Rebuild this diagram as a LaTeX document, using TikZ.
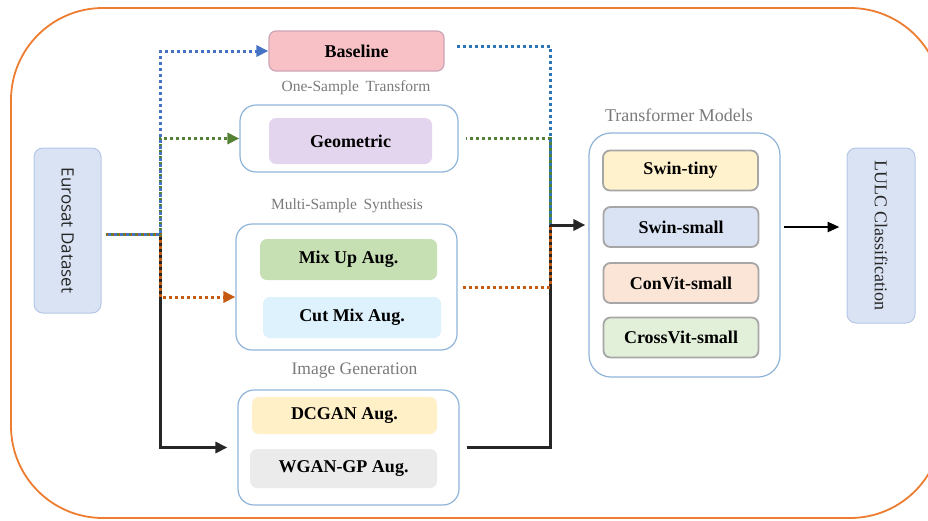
\documentclass[tikz,border=0pt]{standalone}
\usepackage{fontspec}
\setmainfont{Liberation Serif}
\newfontfamily\osans{Open Sans}
\usetikzlibrary{arrows.meta,calc}
\definecolor{outerOr}{HTML}{ED7D31}
\definecolor{grpB}{HTML}{8FB4D9}
\definecolor{eurF}{HTML}{DAE3F3}
\definecolor{eurD}{HTML}{B4C7E7}
\definecolor{baseF}{HTML}{F8C1C6}
\definecolor{baseD}{HTML}{CDA5B8}
\definecolor{geoF}{HTML}{E3D5EE}
\definecolor{mixF}{HTML}{C6E0B4}
\definecolor{cutF}{HTML}{DDF2FC}
\definecolor{dcF}{HTML}{FFF0C8}
\definecolor{wgF}{HTML}{EBEBEB}
\definecolor{tinyF}{HTML}{FFF2CC}
\definecolor{smallF}{HTML}{DAE3F3}
\definecolor{conF}{HTML}{FBE5D6}
\definecolor{crossF}{HTML}{E2F0D9}
\definecolor{mdlD}{HTML}{A6A6A6}
\definecolor{blueL}{HTML}{4472C4}
\definecolor{blueR}{HTML}{2E75B6}
\definecolor{greenL}{HTML}{548235}
\definecolor{orangeL}{HTML}{C55A11}
\definecolor{darkL}{HTML}{262626}
\definecolor{lblG}{HTML}{7A7A7A}
\tikzset{
  grp/.style={draw=grpB, line width=1.2pt, rounded corners=16pt, fill=white, inner sep=0pt},
  inbox/.style={rounded corners=7pt, inner sep=0pt, font=\fontsize{18}{20}\selectfont\bfseries},
  mdl/.style={inbox, draw=mdlD, line width=1.8pt, minimum width=155pt, minimum height=40pt},
  lbl/.style={text=lblG},
  tip/.style={-{Triangle[length=12pt,width=11pt]}},
  dotl/.style={line width=3pt, dash pattern=on 3pt off 3pt},
  solidl/.style={draw=darkL, line width=3pt}
}
\begin{document}
\begin{tikzpicture}[x=1pt,y=-1pt]
\useasboundingbox (0,0) rectangle (928,520);
\begin{scope}
\clip (0,0) rectangle (928,520);
\draw[outerOr, line width=1.8pt, rounded corners=92pt] (11,8) rectangle (942,518);
\end{scope}

% input
\node[draw=eurD, fill=eurF, line width=1pt, rounded corners=9pt, minimum width=67pt, minimum height=165pt, inner sep=0pt] (eur) at (67.5,230.5) {};
\node[rotate=-90, font=\osans\fontsize{17}{20}\selectfont, text=black!85] (eurt) at (eur.center) {Eurosat Dataset};

% baseline
\node[inbox, draw=baseD, line width=1.2pt, fill=baseF, minimum width=175pt, minimum height=40pt] (base) at (356.5,51) {Baseline};

% group 1
\node[lbl, font=\fontsize{15.5}{18}\selectfont] (l1) at (356,88) {One-Sample\, Transform};
\node[grp, minimum width=218pt, minimum height=67pt] (g1) at (349,138.5) {};
\node[inbox, fill=geoF, minimum width=163pt, minimum height=46pt] (geo) at (350.5,141) {Geometric};

% group 2
\node[lbl, font=\fontsize{15.5}{18}\selectfont] (l2) at (347,206) {Multi-Sample\, Synthesis};
\node[grp, minimum width=221pt, minimum height=126pt] (g2) at (346.5,287) {};
\node[inbox, fill=mixF, minimum width=177pt, minimum height=41pt] (mix) at (348.5,259.5) {Mix Up Aug.};
\node[inbox, fill=cutF, minimum width=178pt, minimum height=41pt] (cut) at (352,317.5) {Cut Mix Aug.};

% group 3
\node[lbl, font=\fontsize{17.5}{20}\selectfont] (l3) at (354.5,371) {Image Generation};
\node[grp, minimum width=221pt, minimum height=115pt] (g3) at (348.5,447.5) {};
\node[inbox, fill=dcF, minimum width=185pt, minimum height=37pt] (dc) at (344.5,415.5) {DCGAN Aug.};
\node[inbox, fill=wgF, minimum width=187pt, minimum height=39pt] (wg) at (343.5,468.5) {WGAN-GP Aug.};

% transformer models
\node[lbl, font=\fontsize{18}{20}\selectfont] (l4) at (679,115) {Transformer Models};
\node[grp, rounded corners=22pt, minimum width=191pt, minimum height=244pt] (tg) at (684.5,255) {};
\node[mdl, fill=tinyF] (tiny) at (680.5,170.5) {Swin-tiny};
\node[mdl, fill=smallF] (small) at (681,227) {Swin-small};
\node[mdl, fill=conF] (con) at (681,283) {ConVit-small};
\node[mdl, fill=crossF] (cross) at (681,337.5) {CrossVit-small};

% output
\node[draw=eurD, fill=eurF, line width=1pt, rounded corners=9pt, minimum width=68pt, minimum height=175pt, inner sep=0pt] (lulc) at (881,235.5) {};
\node[rotate=-90, font=\fontsize{18}{20}\selectfont, text=black!85] (lulct) at (lulc.center) {LULC Classification};

% left trunk
\coordinate (j) at (160,234);
\coordinate (k) at (550,225);
\draw[solidl, tip] ($(eur.east |- j)+(4,0)$) -- (j) |- ($(g3.west)+(-10,0)$);
\draw[dotl, orangeL, tip] ($(eur.east |- j)+(4,0)$) -- (j) |- ($(g2.west)+(0,10)$);
\draw[dotl, greenL, tip, dash phase=2pt] ($(eur.east |- j)+(4,0)$) -- (j) |- (g1.west);
\draw[dotl, blueL, tip, dash phase=4pt] ($(eur.east |- j)+(4,0)$) -- (j) |- (base.west);

% right trunk
\draw[solidl] ($(g3.east)+(7,0)$) -| (k);
\draw[dotl, orangeL] ($(g2.east)+(5,0)$) -| (k);
\draw[dotl, greenL, dash phase=2pt] ($(g1.east)+(7,0)$) -| (k);
\draw[dotl, blueR, dash phase=4pt] ($(base.east)+(10,-5)$) -| (k);
\draw[solidl, tip] (k) -- ($(tg.west |- k)+(-3,0)$);

% to output
\draw[line width=2.5pt, -{Triangle[length=12pt,width=10pt]}] ($(small.east -| tg.east)+(3,0)$) -- ($(small.east -| lulc.west)+(-7,0)$);
\end{tikzpicture}
\end{document}
